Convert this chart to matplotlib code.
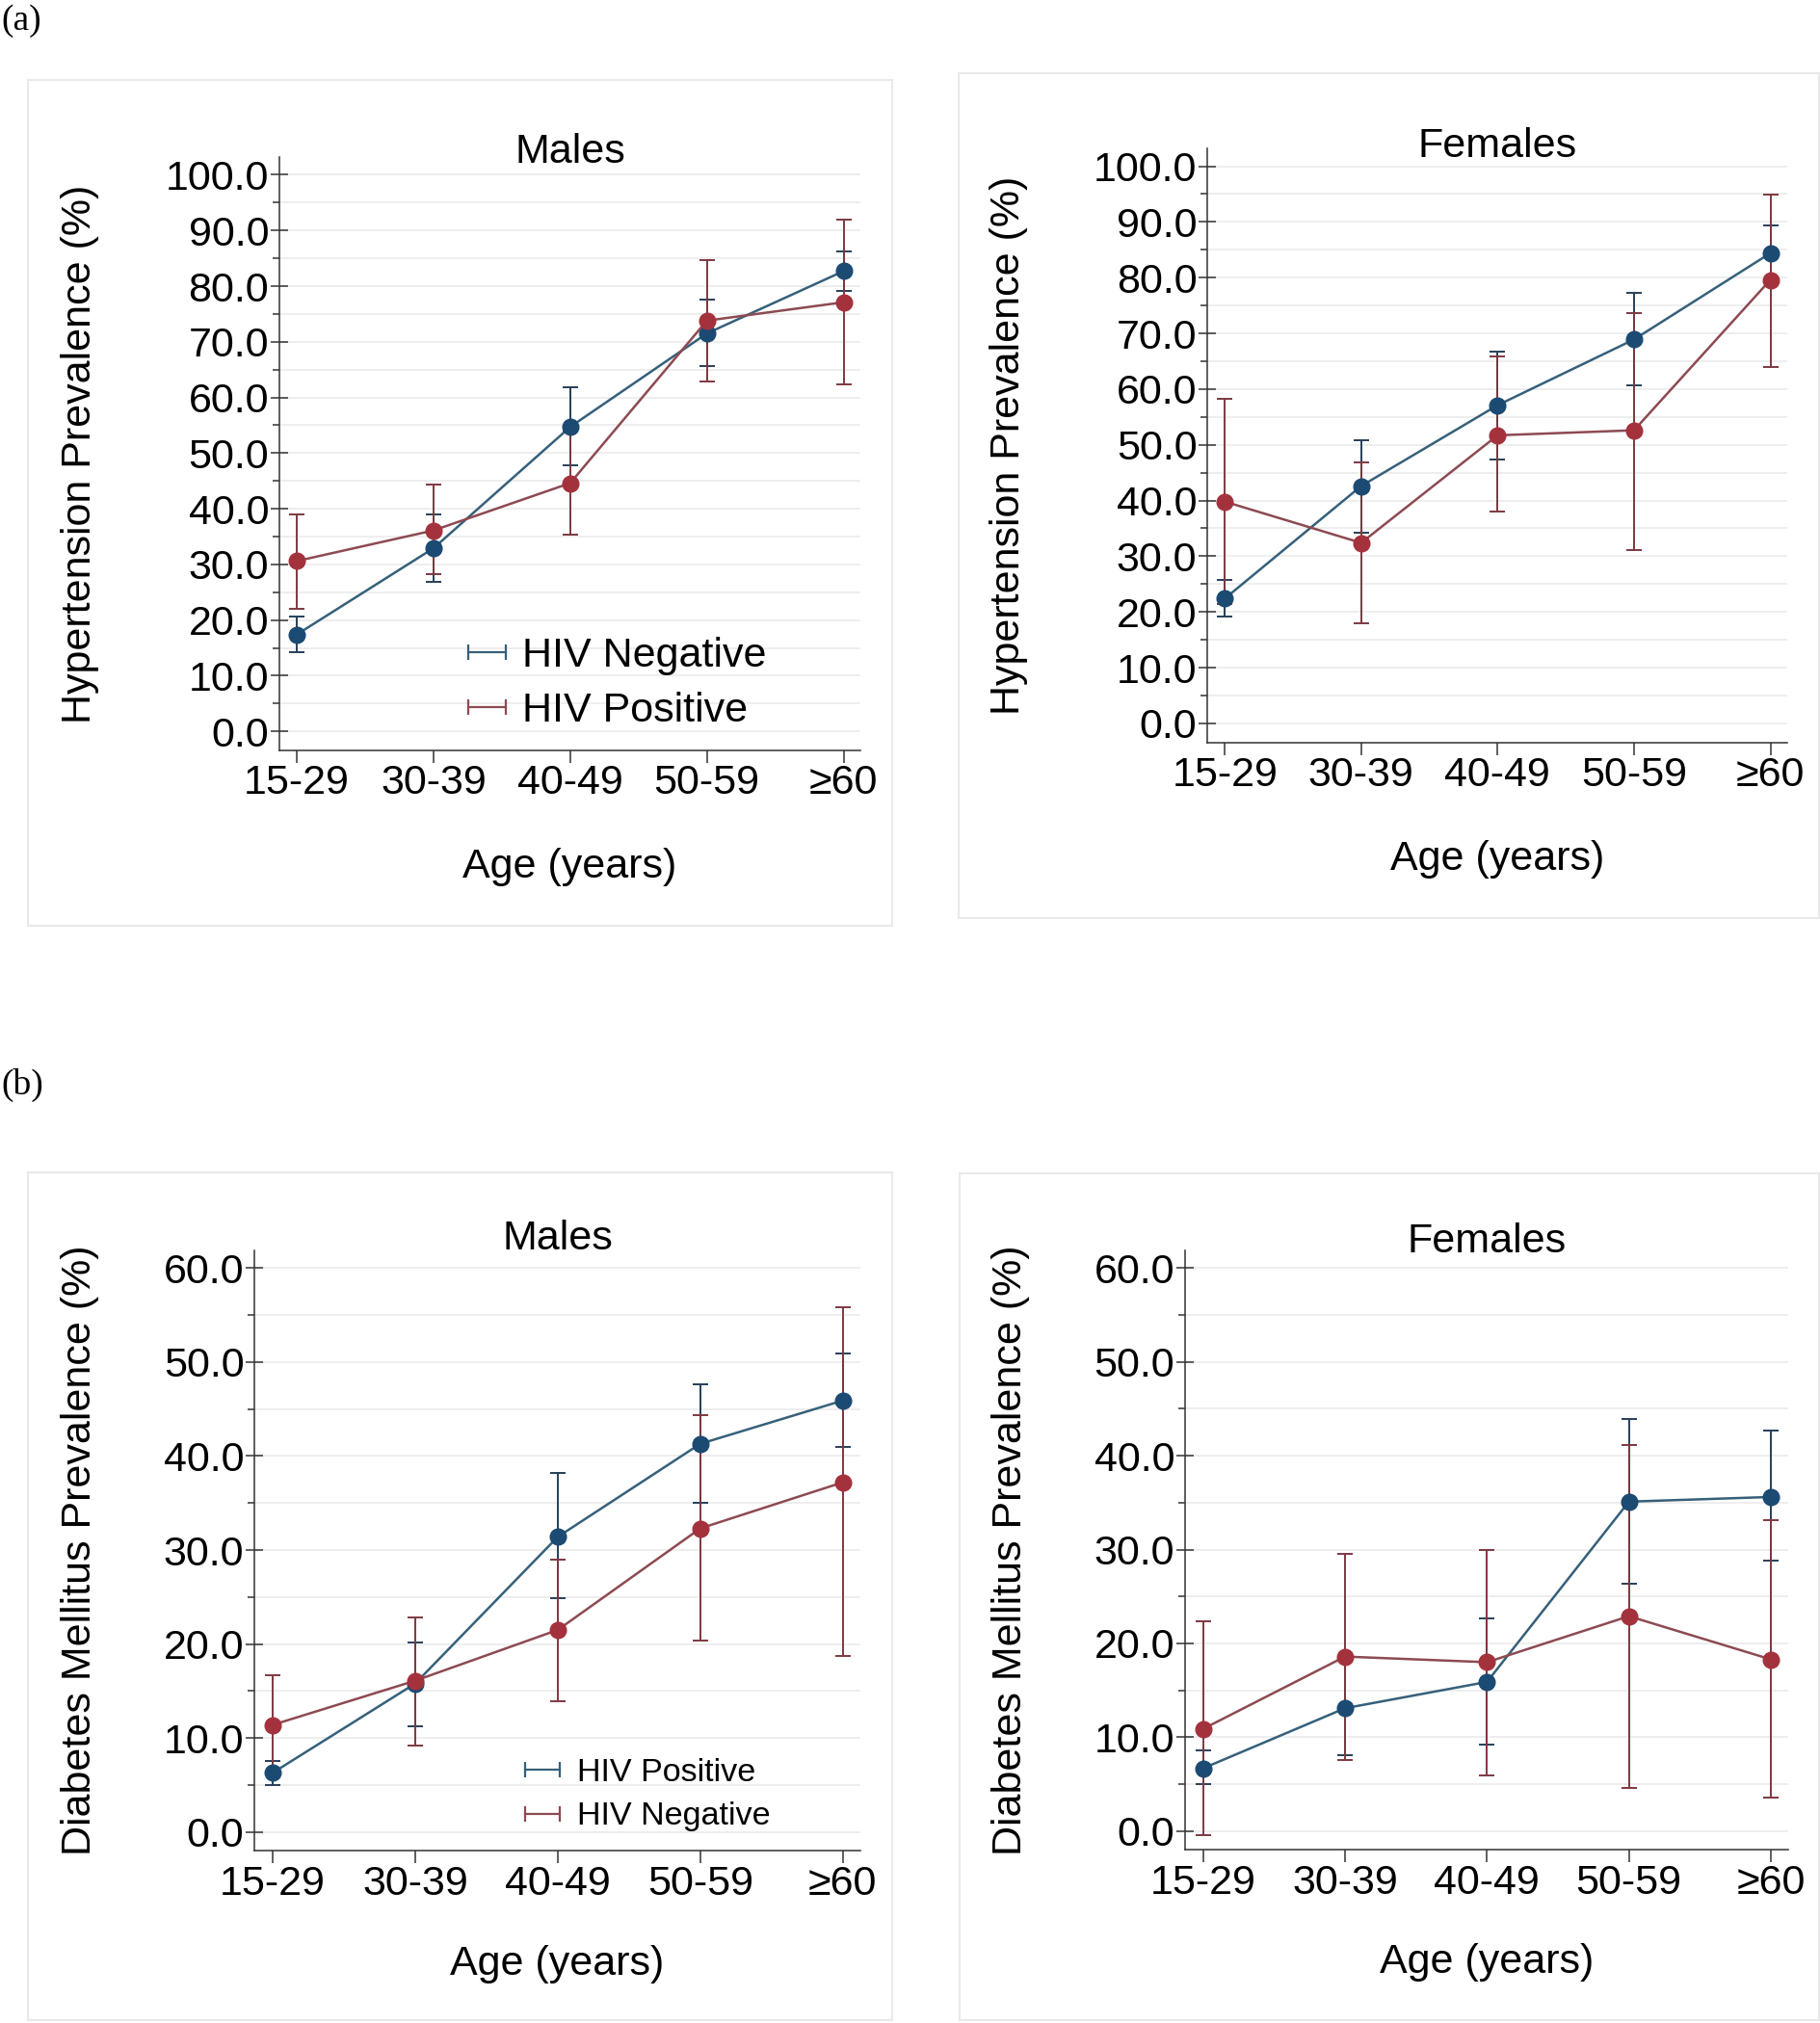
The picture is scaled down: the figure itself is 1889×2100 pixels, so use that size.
import matplotlib
matplotlib.use('Agg')
import matplotlib.pyplot as plt
import numpy as np
from matplotlib.lines import Line2D
from matplotlib.patches import Rectangle
from matplotlib.ticker import MultipleLocator, FormatStrFormatter

plt.rcParams['font.family'] = ['Liberation Sans', 'DejaVu Sans']

W, H = 1890, 2100

age_groups = ['15-29', '30-39', '40-49', '50-59', '≥60']

# (a) hypertension, males
htn_m_neg = [17.4, 32.9, 54.7, 71.5, 82.7]
htn_m_neg_lo = [14.3, 26.8, 47.8, 65.6, 79.1]
htn_m_neg_hi = [20.7, 39.0, 61.9, 77.6, 86.3]
htn_m_pos = [30.6, 36.1, 44.6, 73.8, 77.1]
htn_m_pos_lo = [22.0, 28.3, 35.4, 62.9, 62.4]
htn_m_pos_hi = [39.0, 44.3, 53.8, 84.7, 91.9]

# (a) hypertension, females
htn_f_neg = [22.4, 42.6, 57.1, 68.9, 84.4]
htn_f_neg_lo = [19.1, 34.2, 47.4, 60.7, 79.5]
htn_f_neg_hi = [25.8, 50.8, 66.8, 77.2, 89.3]
htn_f_pos = [39.8, 32.4, 51.7, 52.6, 79.6]
htn_f_pos_lo = [21.4, 17.9, 38.0, 31.1, 64.0]
htn_f_pos_hi = [58.2, 46.9, 65.8, 73.7, 94.9]

# (b) diabetes, males
dm_m_pos = [6.3, 15.8, 31.4, 41.3, 45.9]
dm_m_pos_lo = [5.0, 11.3, 24.9, 35.0, 41.0]
dm_m_pos_hi = [7.6, 20.2, 38.2, 47.6, 50.9]
dm_m_neg = [11.4, 16.1, 21.5, 32.3, 37.2]
dm_m_neg_lo = [6.1, 9.2, 13.9, 20.4, 18.7]
dm_m_neg_hi = [16.7, 22.8, 29.0, 44.3, 55.8]

# (b) diabetes, females
dm_f_pos = [6.7, 13.1, 15.9, 35.1, 35.6]
dm_f_pos_lo = [5.0, 8.1, 9.2, 26.4, 28.8]
dm_f_pos_hi = [8.6, 18.1, 22.7, 43.9, 42.7]
dm_f_neg = [10.9, 18.6, 18.0, 22.9, 18.3]
dm_f_neg_lo = [-0.4, 7.6, 5.9, 4.6, 3.6]
dm_f_neg_hi = [22.4, 29.5, 30.0, 41.1, 33.1]

BLUE = dict(mk='#1b4a72', ln='#36607a', eb='#263f58')
RED = dict(mk='#a4323d', ln='#8d4a52', eb='#7d3840')


def px_rect(l, r, b, t):
    return [l / W, 1 - b / H, (r - l) / W, (b - t) / H]


def draw_series(ax, y, lo, hi, col):
    x = np.arange(len(age_groups))
    y = np.array(y)
    ax.errorbar(x, y, yerr=[y - np.array(lo), np.array(hi) - y], fmt='none',
                ecolor=col['eb'], elinewidth=1.4, capsize=5.6, capthick=1.4, zorder=2)
    ax.plot(x, y, '-o', color=col['ln'], lw=1.8, ms=12, mfc=col['mk'], mec=col['mk'], zorder=3)


def setup_axes(ax, ylim, major, ylabel, title, title_y, xlab_y, ylab_x):
    ax.set_xlim(-0.13, 4.125)
    ax.set_ylim(*ylim)
    ax.set_xticks(range(len(age_groups)))
    ax.set_xticklabels(age_groups)
    ax.yaxis.set_major_locator(MultipleLocator(major))
    ax.yaxis.set_minor_locator(MultipleLocator(5))
    ax.yaxis.set_major_formatter(FormatStrFormatter('%.1f'))
    ax.yaxis.grid(True, which='both', color='#ebebeb', lw=1.2)
    ax.set_axisbelow(True)
    for s in ['top', 'right']:
        ax.spines[s].set_visible(False)
    for s in ['left', 'bottom']:
        ax.spines[s].set_color('#333333')
        ax.spines[s].set_linewidth(1.1)
    ax.tick_params(axis='y', which='major', direction='inout', length=13, width=1.1,
                   color='#333333', labelsize=31, pad=1)
    ax.tick_params(axis='y', which='minor', direction='out', length=5, width=1.1, color='#333333')
    ax.tick_params(axis='x', which='major', direction='out', length=9.5, width=1.1,
                   color='#333333', labelsize=31, pad=1)
    ax.set_ylabel(ylabel, fontsize=31, va='center')
    ax.yaxis.set_label_coords(ylab_x, 0.5)
    ax.set_xlabel('Age (years)', fontsize=31, va='center')
    ax.xaxis.set_label_coords(0.5, xlab_y)
    ax.text(0.5, title_y, title, transform=ax.transAxes, ha='center', va='center', fontsize=31)


def legend(ax, labels, fs, x, y, hl, tp, ls):
    # key drawn as a short horizontal line with a cap at each end
    handles = [Line2D([], [], color=BLUE['ln'], lw=1.6, marker='|', ms=11, mew=1.6),
               Line2D([], [], color=RED['ln'], lw=1.6, marker='|', ms=11, mew=1.6)]
    ax.legend(handles, labels, loc='center left', bbox_to_anchor=(x, y), frameon=False,
              fontsize=fs, numpoints=2, handlelength=hl, handletextpad=tp, labelspacing=ls,
              borderpad=0, borderaxespad=0)


fig = plt.figure(figsize=(W / 100, H / 100), dpi=100)

# light panel frames
for l, r, b, t in [(29.5, 926, 960.7, 82.7), (995, 1888, 953.3, 76),
                   (29, 926, 2097, 1217), (996, 1888, 2097, 1218)]:
    fig.add_artist(Rectangle((l / W, 1 - b / H), (r - l) / W, (b - t) / H,
                             transform=fig.transFigure, fill=False, ec='#e9e9e9', lw=1.5))

fig.text(1 / W, 1 - 22 / H, '(a)', family='Liberation Serif', fontsize=27, ha='left', va='center')
fig.text(1 / W, 1 - 1126.5 / H, '(b)', family='Liberation Serif', fontsize=27, ha='left', va='center')

# (a) Males
ax = fig.add_axes(px_rect(289.6, 893.3, 778.8, 163))
draw_series(ax, htn_m_neg, htn_m_neg_lo, htn_m_neg_hi, BLUE)
draw_series(ax, htn_m_pos, htn_m_pos_lo, htn_m_pos_hi, RED)
setup_axes(ax, (-3.4, 103.2), 10, 'Hypertension Prevalence (%)', 'Males', 1.008, -0.197, -0.342)
legend(ax, ['HIV Negative', 'HIV Positive'], 31, 0.304, 0.1125, 1.5, 0.1, 0.38)

# (a) Females
ax = fig.add_axes(px_rect(1252.8, 1855.2, 770.6, 154))
draw_series(ax, htn_f_neg, htn_f_neg_lo, htn_f_neg_hi, BLUE)
draw_series(ax, htn_f_pos, htn_f_pos_lo, htn_f_pos_hi, RED)
setup_axes(ax, (-3.4, 103.2), 10, 'Hypertension Prevalence (%)', 'Females', 1.004, -0.197, -0.341)

# (b) Males
ax = fig.add_axes(px_rect(263.8, 893.3, 1921.3, 1297.7))
draw_series(ax, dm_m_pos, dm_m_pos_lo, dm_m_pos_hi, BLUE)
draw_series(ax, dm_m_neg, dm_m_neg_lo, dm_m_neg_hi, RED)
setup_axes(ax, (-2.0, 61.9), 10, 'Diabetes Mellitus Prevalence (%)', 'Males', 1.019, -0.188, -0.287)
legend(ax, ['HIV Positive', 'HIV Negative'], 24.6, 0.431, 0.093, 1.65, 0.23, 0.42)

# (b) Females
ax = fig.add_axes(px_rect(1229.6, 1856.4, 1920.4, 1297.6))
draw_series(ax, dm_f_pos, dm_f_pos_lo, dm_f_pos_hi, BLUE)
draw_series(ax, dm_f_neg, dm_f_neg_lo, dm_f_neg_hi, RED)
setup_axes(ax, (-2.0, 61.9), 10, 'Diabetes Mellitus Prevalence (%)', 'Females', 1.0145, -0.188, -0.288)

fig.savefig('out.png', dpi=100, facecolor='white')
